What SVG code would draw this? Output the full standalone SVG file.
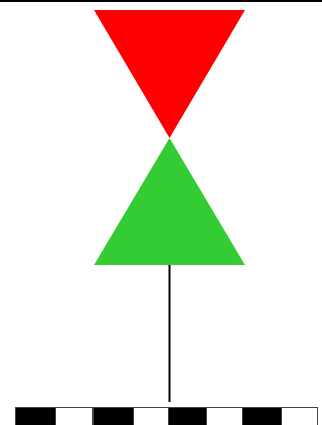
<svg xmlns="http://www.w3.org/2000/svg" width="322" height="425" viewBox="0 0 322 425">
<style>
.blk{fill:#000;stroke:#444;stroke-width:1}
.wht{fill:#fff;stroke:#444;stroke-width:1}
</style>
<rect x="0" y="0" width="322" height="425" fill="#fff"/>
<rect x="0" y="0" width="322" height="2" fill="#000"/>
<g id="red-triangle"><polygon points="94,10 245,10 169.5,138" fill="#ff0000"/></g>
<g id="green-triangle"><polygon points="169.5,138 94,265 245,265" fill="#33cc33"/></g>
<g id="connectors"><line x1="169.5" y1="265" x2="169.5" y2="402" stroke="#000" stroke-width="2"/></g>
<g id="scale-bar">
<rect class="blk" x="15.5" y="407.5" width="40" height="20"/>
<rect class="wht" x="55.5" y="407.5" width="37" height="20"/>
<rect class="blk" x="93.5" y="407.5" width="40" height="20"/>
<rect class="wht" x="133.5" y="407.5" width="35" height="20"/>
<rect class="blk" x="168.5" y="407.5" width="38" height="20"/>
<rect class="wht" x="206.5" y="407.5" width="36" height="20"/>
<rect class="blk" x="242.5" y="407.5" width="39" height="20"/>
<rect class="wht" x="281.5" y="407.5" width="36" height="20"/>
</g>
</svg>
